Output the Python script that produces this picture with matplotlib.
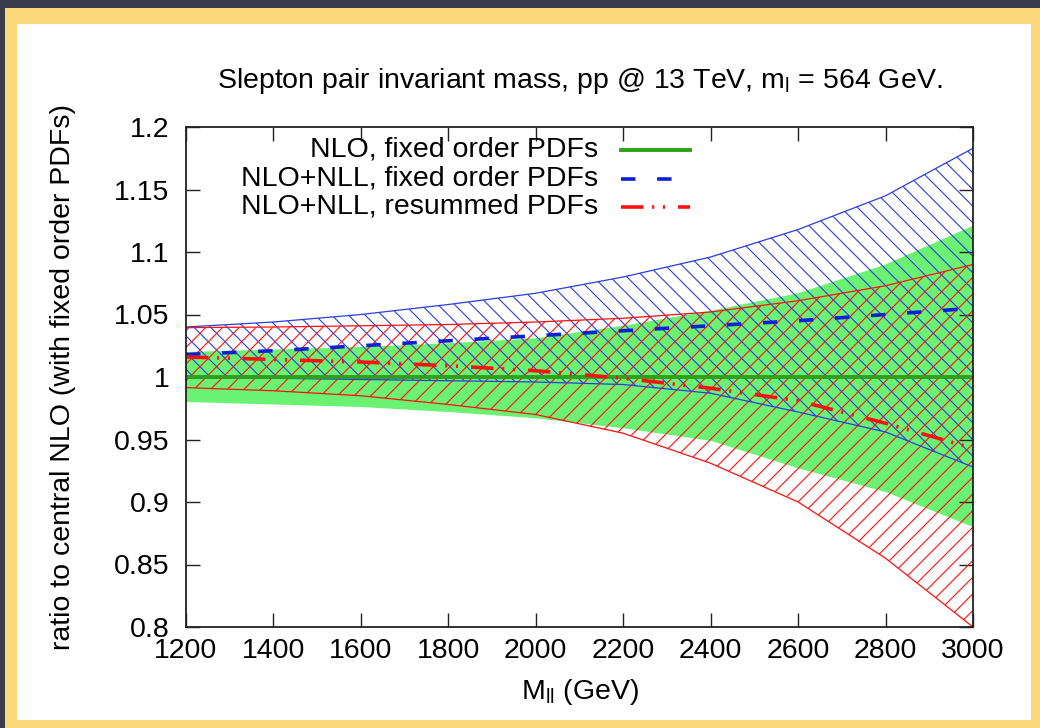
import numpy as np
import matplotlib.pyplot as plt
from matplotlib.patches import Rectangle

plt.rcParams['font.family'] = ['Liberation Sans', 'DejaVu Sans']
plt.rcParams['mathtext.fontset'] = 'custom'
plt.rcParams['mathtext.rm'] = 'Liberation Sans'
plt.rcParams['hatch.linewidth'] = 0.8

# invariant mass grid (GeV)
mass = [1200, 1400, 1600, 1800, 2000, 2200, 2400, 2600, 2800, 3000]

# NLO, fixed order PDFs: central and PDF band
nlo_central = [1.0, 1.0, 1.0, 1.0, 1.0, 1.0, 1.0, 1.0, 1.0, 1.0]
nlo_low = [0.980, 0.978, 0.976, 0.972, 0.967, 0.959, 0.949, 0.927, 0.908, 0.880]
nlo_high = [1.020, 1.022, 1.024, 1.027, 1.031, 1.041, 1.053, 1.067, 1.090, 1.121]

# NLO+NLL, fixed order PDFs
nll_central = [1.018, 1.021, 1.025, 1.029, 1.033, 1.037, 1.041, 1.045, 1.050, 1.055]
nll_low = [0.999, 0.999, 0.998, 0.997, 0.996, 0.994, 0.987, 0.972, 0.956, 0.928]
nll_high = [1.040, 1.044, 1.050, 1.058, 1.067, 1.080, 1.096, 1.118, 1.145, 1.183]

# NLO+NLL, resummed PDFs
res_central = [1.016, 1.014, 1.012, 1.009, 1.005, 0.999, 0.991, 0.981, 0.963, 0.943]
res_low = [0.9915, 0.989, 0.985, 0.978, 0.970, 0.955, 0.931, 0.900, 0.855, 0.800]
res_high = [1.0395, 1.040, 1.041, 1.042, 1.044, 1.047, 1.052, 1.061, 1.073, 1.090]

labels = ['NLO, fixed order PDFs', 'NLO+NLL, fixed order PDFs', 'NLO+NLL, resummed PDFs']

green_fill = '#6cf272'
green_line = '#2ea01c'
blue = '#0a1fd8'
blue_thin = '#2a3ee0'
red = '#ff1010'
fs = 20.5

fig = plt.figure(figsize=(10.4, 7.28), dpi=100)
fig.patch.set_facecolor('#393d4b')
W, H = 1040.0, 728.0
fig.add_artist(Rectangle((5 / W, 0), 1.0, 1 - 8 / H, transform=fig.transFigure,
                         facecolor='#fbd97a', edgecolor='none', zorder=-10))
fig.add_artist(Rectangle((17 / W, 8 / H), (1031 - 17) / W, (720 - 24) / H,
                         transform=fig.transFigure, facecolor='white',
                         edgecolor='none', zorder=-9))

ax = fig.add_axes([186 / W, 1 - 627 / H, (973 - 186) / W, 500 / H])
ax.set_facecolor('white')

ax.fill_between(mass, nlo_low, nlo_high, facecolor=green_fill, edgecolor='none',
                linewidth=0, zorder=1)
ax.fill_between(mass, nll_low, nll_high, facecolor='none', edgecolor=blue_thin,
                hatch='\\\\', linewidth=0, zorder=2)
ax.fill_between(mass, res_low, res_high, facecolor='none', edgecolor=red,
                hatch='//', linewidth=0, zorder=3)
for lo, hi, c in [(nll_low, nll_high, blue_thin), (res_low, res_high, red)]:
    ax.plot(mass, lo, color=c, lw=0.9, zorder=4)
    ax.plot(mass, hi, color=c, lw=0.9, zorder=4)

styles = [
    dict(color=green_line, lw=2.8, linestyle='-'),
    dict(color=blue, lw=2.6, linestyle=(0, (4.0, 6.0))),
    dict(color=red, lw=2.6, linestyle=(0, (6.2, 2.4, 0.6, 2.4, 0.6, 3.6))),
]
for y, st in zip([nlo_central, nll_central, res_central], styles):
    ax.plot(mass, y, zorder=5, **st)

# legend drawn gnuplot-style: right-aligned text, sample on the right
rows = [0.954, 0.897, 0.841]
for lab, yy, st in zip(labels, rows, styles):
    ax.text(0.5235, yy, lab, transform=ax.transAxes, ha='right', va='center',
            fontsize=fs, zorder=6)
    ax.plot([0.5527, 0.6404], [yy, yy], transform=ax.transAxes, zorder=6, **st)

ax.set_xlim(1200, 3000)
ax.set_ylim(0.8, 1.2)
ax.set_xticks(np.arange(1200, 3001, 200))
ax.set_yticks([0.8, 0.85, 0.9, 0.95, 1.0, 1.05, 1.1, 1.15, 1.2])
ax.set_yticklabels(['0.8', '0.85', '0.9', '0.95', '1', '1.05', '1.1', '1.15', '1.2'])
ax.tick_params(direction='in', length=10, width=1.0, top=True, right=True,
               labelsize=fs, colors='#222222', labelcolor='black')
ax.tick_params(axis='x', pad=8)
ax.tick_params(axis='y', pad=12)
for sp in ax.spines.values():
    sp.set_linewidth(1.3)
    sp.set_color('#222222')
    sp.set_zorder(7)

ax.set_xlabel('M$_\\mathregular{ll}$ (GeV)', fontsize=fs, labelpad=9)
ax.set_ylabel('ratio to central NLO (with fixed order PDFs)', fontsize=fs, labelpad=27)
ax.set_title('Slepton pair invariant mass, pp @ 13 TeV, m$_\\mathregular{l}$ = 564 GeV.',
             fontsize=fs, pad=28)

fig.savefig('out.png', dpi=100, facecolor=fig.get_facecolor())
